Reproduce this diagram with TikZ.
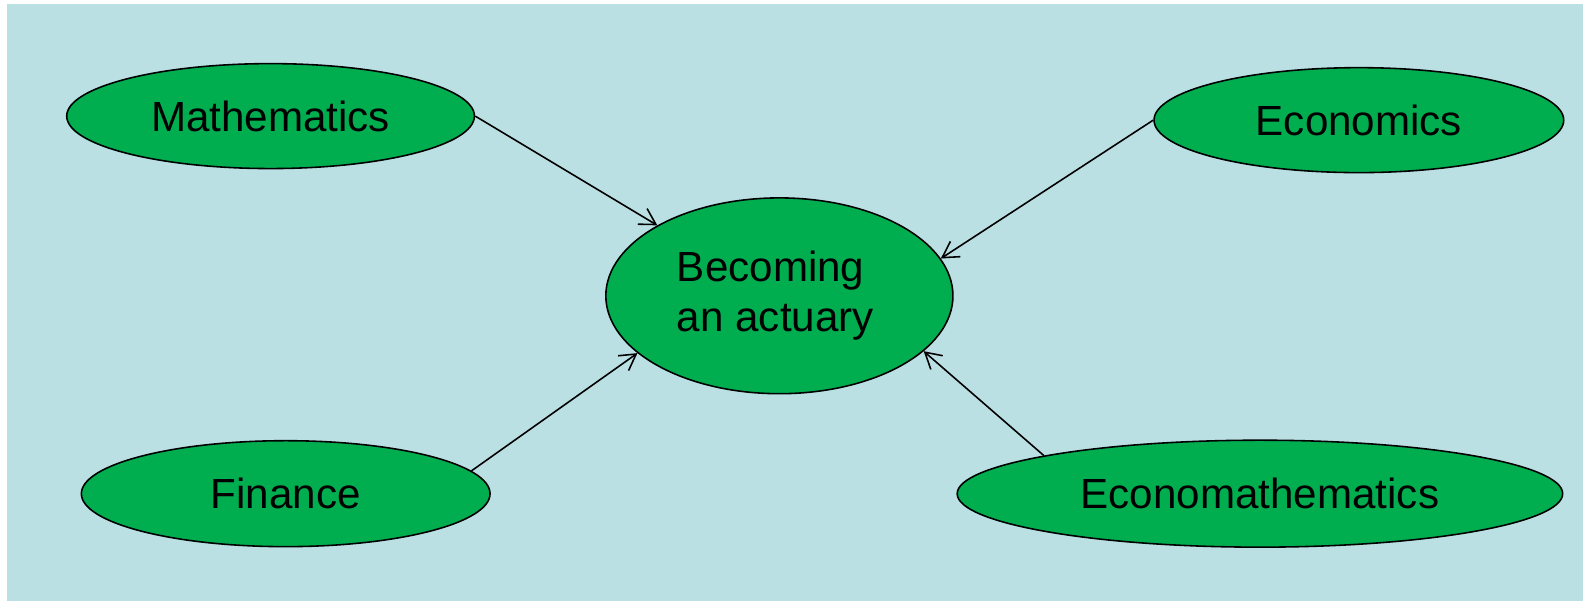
\documentclass[tikz,border=0pt]{standalone}
\usepackage{fontspec}
\setmainfont{Liberation Sans}
\usetikzlibrary{shapes.geometric,arrows.meta}
\definecolor{bgblue}{HTML}{BBE0E3}
\definecolor{ovalgreen}{HTML}{00AD4F}
\tikzset{
  oval/.style={ellipse, draw=black, line width=0.45pt, fill=ovalgreen, inner sep=0pt,
    font=\fontsize{12}{15}\selectfont, text=black},
  link/.style={draw=black, line width=0.45pt, -{Straight Barb[length=0.158cm,width=0.182cm,line width=0.45pt]}}
}
\begin{document}
\begin{tikzpicture}[x=0.010096cm,y=-0.010096cm]
\useasboundingbox (0,0) rectangle (1568,597.3);
\fill[bgblue] (7,4) rectangle (1568,595.5);
\node[oval, minimum width=4.079cm, minimum height=1.050cm] (math) at (268,115) {Mathematics};
\node[oval, minimum width=4.099cm, minimum height=1.050cm] (econ) at (1346,119) {Economics};
\node[oval, minimum width=3.473cm, minimum height=1.959cm, align=left,
  font=\fontsize{12}{15}\selectfont] (act) at (772,293) {Becoming\\[-0.1ex]an actuary\hspace*{0.08cm}};
\node[oval, minimum width=4.089cm, minimum height=1.060cm] (fin) at (283,489) {Finance};
\node[oval, minimum width=6.058cm, minimum height=1.070cm] (emath) at (1248,489) {Economathematics};
\draw[link] (math.east) -- (act.150.5);
\draw[link] (econ.west) -- (act.13.1);
\draw[link] (fin.7) -- (act.202.3);
\draw[link] (emath.170.8) -- (act.-21);
\end{tikzpicture}
\end{document}
